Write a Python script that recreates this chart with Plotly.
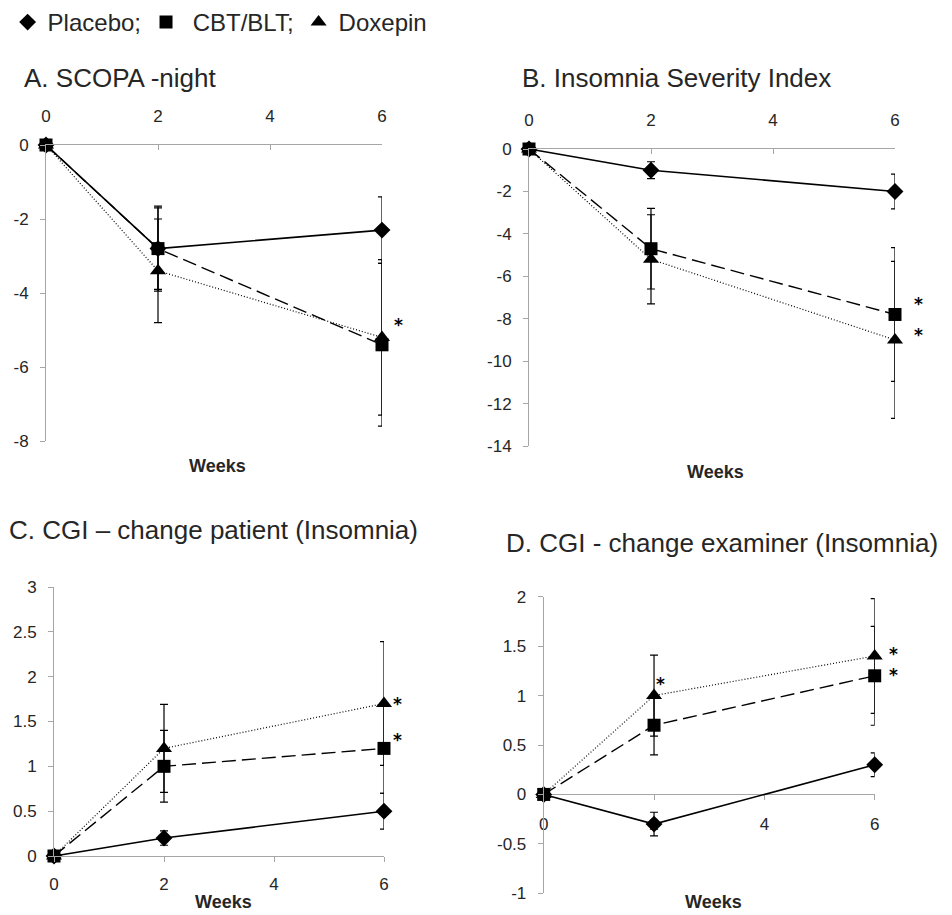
import plotly.graph_objects as go

W, H = 952, 915
weeks = [0, 2, 6]

# Panel A: SCOPA-night
a_placebo = [0, -2.8, -2.3]
a_placebo_err = [0, 1.1, 0.9]
a_cbt = [0, -2.8, -5.4]
a_cbt_err = [0, 1.15, 2.2]
a_dox = [0, -3.4, -5.2]
a_dox_err = [0, 1.4, 2.1]

# Panel B: Insomnia Severity Index
b_placebo = [0, -1.0, -2.0]
b_placebo_err = [0, 0.4, 0.82]
b_cbt = [0, -4.7, -7.8]
b_cbt_err = [0, 1.9, 3.15]
b_dox = [0, -5.2, -9.0]
b_dox_err = [0, 2.1, 3.7]

# Panel C: CGI change patient
c_placebo = [0, 0.2, 0.5]
c_placebo_err = [0, 0.08, 0.2]
c_cbt = [0, 1.0, 1.2]
c_cbt_err = [0, 0.4, 0.5]
c_dox = [0, 1.2, 1.7]
c_dox_err = [0, 0.49, 0.69]

# Panel D: CGI change examiner
d_placebo = [0, -0.3, 0.3]
d_placebo_err = [0, 0.12, 0.12]
d_cbt = [0, 0.7, 1.2]
d_cbt_err = [0, 0.3, 0.5]
d_dox = [0, 1.0, 1.4]
d_dox_err = [0, 0.41, 0.58]

series_names = ["Placebo;", "CBT/BLT;", "Doxepin"]
panel_titles = ["A. SCOPA -night", "B. Insomnia Severity Index",
                "C. CGI \u2013 change patient (Insomnia)",
                "D. CGI - change examiner (Insomnia)"]
xticks = [0, 2, 4, 6]
a_yticks = [-8, -6, -4, -2, 0]
a_ylabels = ["-8", "-6", "-4", "-2", "0"]
b_yticks = [-14, -12, -10, -8, -6, -4, -2, 0]
b_ylabels = ["-14", "-12", "-10", "-8", "-6", "-4", "-2", "0"]
c_yticks = [0, 0.5, 1, 1.5, 2, 2.5, 3]
c_ylabels = ["0", "0.5", "1", "1.5", "2", "2.5", "3"]
d_yticks = [-1, -0.5, 0, 0.5, 1, 1.5, 2]
d_ylabels = ["-1", "-0.5", "0", "0.5", "1", "1.5", "2"]

# significance markers: (week, value at star centre)
stars_a = [(6, -4.81)]
stars_b = [(6, -7.2), (6, -8.66)]
stars_c = [(6, 1.72), (6, 1.32)]
stars_d = [(6, 1.44), (6, 1.23), (2, 1.14)]

FONT = "Liberation Sans, Arial, sans-serif"
AXC = "#a6a6a6"
TXT = "#262626"

fig = go.Figure()

styles = {
    "Placebo;": dict(symbol="diamond", size=13, dash="solid", width=1.6),
    "CBT/BLT;": dict(symbol="square", size=13, dash="14px,6px", width=1.4),
    "Doxepin": dict(symbol="triangle-up", size=14, dash="1px,2px", width=1.2),
}

panels = [
    ("x", "y", [(a_dox, a_dox_err, "Doxepin"), (a_placebo, a_placebo_err, "Placebo;"), (a_cbt, a_cbt_err, "CBT/BLT;")]),
    ("x2", "y2", [(b_dox, b_dox_err, "Doxepin"), (b_placebo, b_placebo_err, "Placebo;"), (b_cbt, b_cbt_err, "CBT/BLT;")]),
    ("x3", "y3", [(c_dox, c_dox_err, "Doxepin"), (c_placebo, c_placebo_err, "Placebo;"), (c_cbt, c_cbt_err, "CBT/BLT;")]),
    ("x4", "y4", [(d_dox, d_dox_err, "Doxepin"), (d_cbt, d_cbt_err, "CBT/BLT;"), (d_placebo, d_placebo_err, "Placebo;")]),
]

for xa, ya, trs in panels:
    for vals, err, name in trs:
        st = styles[name]
        fig.add_trace(go.Scatter(
            x=weeks, y=vals, xaxis=xa, yaxis=ya, mode="lines+markers",
            name=name, showlegend=False, cliponaxis=False,
            line=dict(color="black", width=st["width"], dash=st["dash"]),
            marker=dict(symbol=st["symbol"], size=st["size"], color="black"),
            error_y=dict(type="data", array=err, visible=True, color="black",
                         thickness=1.2, width=4),
        ))

# legend entries (markers only)
legend_labels = ["Placebo;", "\u00a0CBT/BLT;", "Doxepin"]
for name, lab in zip(series_names, legend_labels):
    st = styles[name]
    fig.add_trace(go.Scatter(
        x=[None], y=[None], mode="markers", name=lab, showlegend=True,
        marker=dict(symbol=st["symbol"], size=st["size"], color="black"),
    ))

def px_x(p):
    return p / W

def px_y(p):
    return 1 - p / H

common_x = dict(range=[0, 6], tickvals=xticks, showline=True, linecolor=AXC,
                linewidth=1, tickcolor=AXC, ticklen=5, showgrid=False,
                zeroline=False, tickfont=dict(size=17, color=TXT, family=FONT))
common_y = dict(showline=True, linecolor=AXC, linewidth=1, tickcolor=AXC,
                ticklen=5, ticks="outside", showgrid=False, zeroline=False,
                tickfont=dict(size=17, color=TXT, family=FONT),
                ticklabelstandoff=8)

layout = dict(
    width=W, height=H, margin=dict(l=0, r=0, t=0, b=0, pad=0, autoexpand=False),
    paper_bgcolor="white", plot_bgcolor="white",
    font=dict(family=FONT, color=TXT),
    showlegend=True,
    legend=dict(orientation="h", x=0.008, y=1.0, xanchor="left", yanchor="top",
                font=dict(size=24, color=TXT, family=FONT), itemwidth=30,
                bgcolor="rgba(0,0,0,0)"),
    xaxis=dict(common_x, domain=[px_x(46), px_x(382)], anchor="y", side="top",
               ticks="inside", ticklabelstandoff=15),
    yaxis=dict(common_y, domain=[px_y(441), px_y(145)], anchor="x",
               range=[-8, 0], tickvals=a_yticks, ticktext=a_ylabels),
    xaxis2=dict(common_x, domain=[px_x(529), px_x(895)], anchor="y2", side="top",
                ticks="inside", ticklabelstandoff=15),
    yaxis2=dict(common_y, domain=[px_y(446), px_y(149)], anchor="x2",
                range=[-14, 0], tickvals=b_yticks, ticktext=b_ylabels),
    xaxis3=dict(common_x, domain=[px_x(54), px_x(384)], anchor="y3",
                ticks="outside", ticklabelstandoff=8),
    yaxis3=dict(common_y, domain=[px_y(856), px_y(587)], anchor="x3",
                range=[0, 3], tickvals=c_yticks, ticktext=c_ylabels),
    xaxis4=dict(common_x, domain=[px_x(543.7), px_x(874.7)], anchor="free",
                position=px_y(794.3), ticks="outside", ticklabelstandoff=9,
                layer="below traces"),
    yaxis4=dict(common_y, domain=[px_y(893.3), px_y(596.7)], anchor="x4",
                range=[-1, 2], tickvals=d_yticks, ticktext=d_ylabels),
)
fig.update_layout(**layout)

annots = []
title_pos = [(22, 78), (520, 78), (7, 530), (504, 543)]
for t, (tx, ty) in zip(panel_titles, title_pos):
    annots.append(dict(text=t, x=px_x(tx), y=px_y(ty), xref="paper", yref="paper",
                       xanchor="left", yanchor="middle", showarrow=False,
                       font=dict(size=26, color=TXT, family=FONT)))
weeks_pos = [(217, 466), (715, 472), (223, 902), (713, 902)]
for wx, wy in weeks_pos:
    annots.append(dict(text="<b>Weeks</b>", x=px_x(wx), y=px_y(wy), xref="paper",
                       yref="paper", xanchor="center", yanchor="middle",
                       showarrow=False, font=dict(size=18, color=TXT, family=FONT)))

star_sets = [("x", "y", stars_a, 16), ("x2", "y2", stars_b, 23),
             ("x3", "y3", stars_c, 13), ("x4", "y4", stars_d, 19)]
for xa, ya, pts, shift in star_sets:
    for sx, sy in pts:
        annots.append(dict(text="<b>*</b>", x=sx, y=sy, xref=xa, yref=ya,
                           xanchor="center", yanchor="middle", showarrow=False,
                           xshift=(shift if sx == 6 else 6), yshift=-2,
                           font=dict(size=17, color="black",
                                     family="DejaVu Sans, sans-serif")))
fig.update_layout(annotations=annots)

post = (
    "document.documentElement.style.margin='0';"
    "document.documentElement.style.padding='0';"
    "document.body.style.margin='0';"
    "document.body.style.padding='0';"
    "document.documentElement.style.overflow='hidden';"
    "document.body.style.overflow='hidden';"
)
fig.write_html("out.html", post_script=post,
               config={"displayModeBar": False, "responsive": False})
